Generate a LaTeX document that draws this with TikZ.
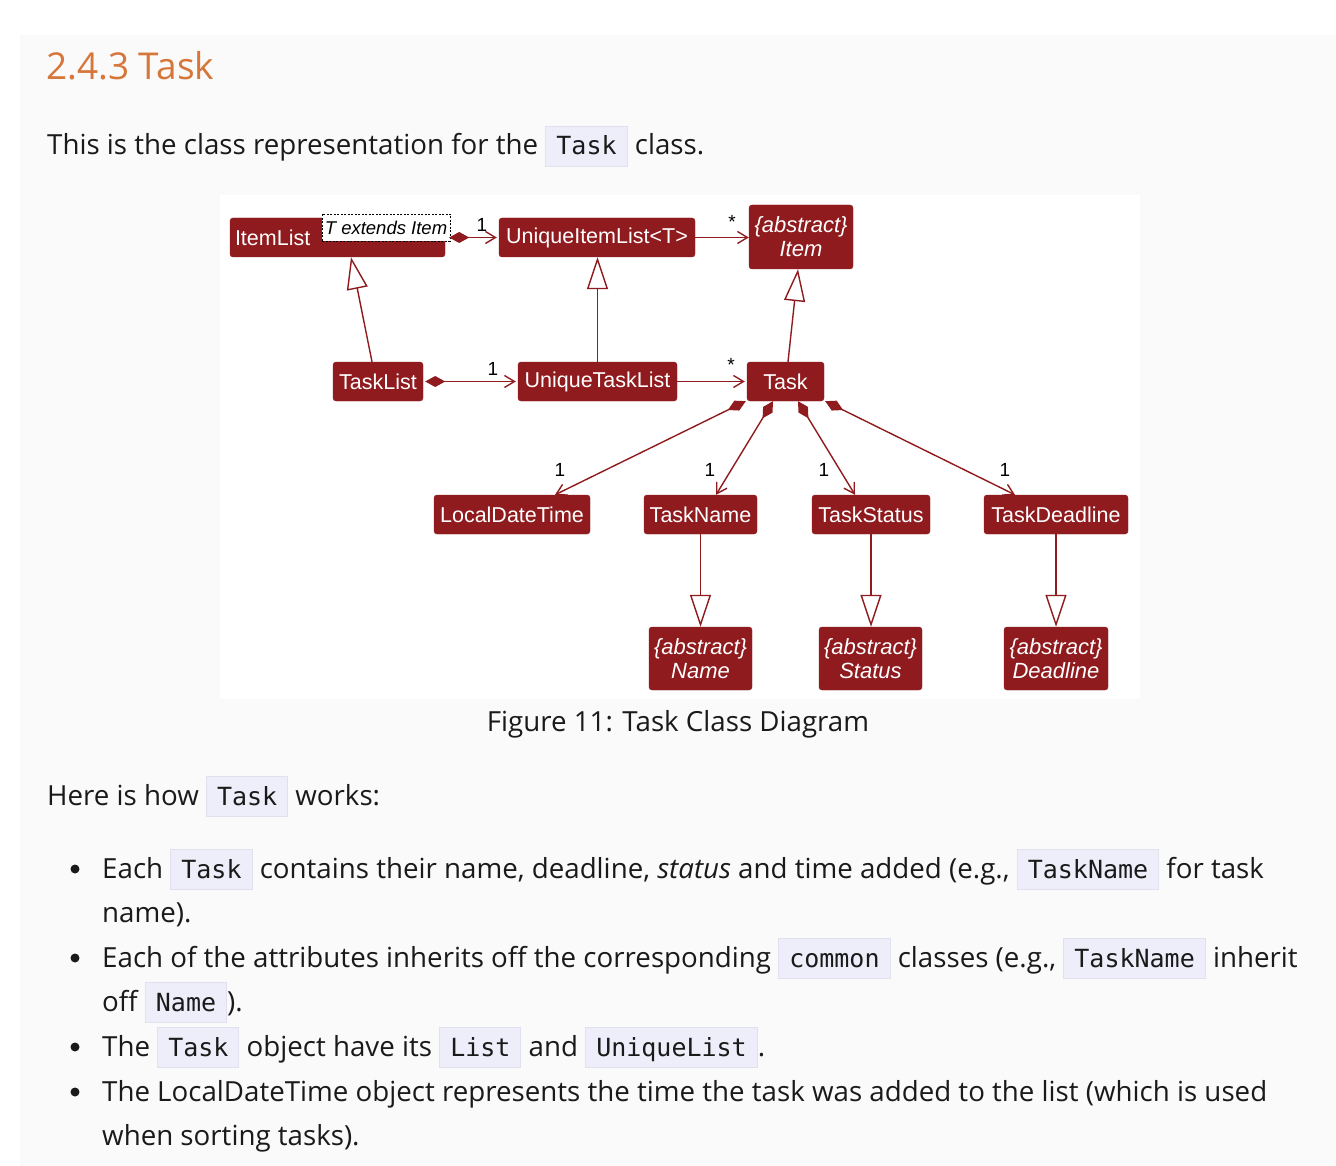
\documentclass[tikz,border=0pt]{standalone}
\usepackage{fontspec}
\setmainfont{Open Sans}
\newfontfamily\umlfont{Liberation Sans}
\newfontfamily\monofont{DejaVu Sans Mono}
\usetikzlibrary{arrows.meta,calc}
\definecolor{umlred}{RGB}{143,27,30}
\definecolor{headorange}{RGB}{214,118,58}
\definecolor{panelgray}{RGB}{250,250,250}
\definecolor{cdf}{RGB}{238,238,250}
\definecolor{cdb}{RGB}{224,224,238}
\definecolor{txt}{RGB}{26,26,26}
\newcommand\cd[1]{{\setlength\fboxsep{0pt}\setlength\fboxrule{1pt}\fcolorbox{cdb}{cdf}{\rule[-11pt]{0pt}{39pt}\hspace{10pt}{\monofont\fontsize{25}{25}\selectfont #1}\hspace{10pt}}}}
\tikzset{
  cls/.style={fill=umlred, draw=umlred, rounded corners=3pt, text=white, inner sep=0pt,
    font=\umlfont\fontsize{21.5}{24}\selectfont, minimum height=39pt},
  abs/.style={cls, align=center, minimum height=63pt, font=\umlfont\itshape\fontsize{22}{24}\selectfont},
  conn/.style={draw=umlred, line width=1.4pt},
  comp/.style={conn, {Diamond[length=20pt,width=11pt]}-{Straight Barb[length=10pt,width=12pt]}},
  assoc/.style={conn, -{Straight Barb[length=10pt,width=12pt]}},
  inh/.style={conn, -{Triangle[open,length=32pt,width=21pt,fill=white]}},
  mult/.style={font=\umlfont\fontsize{19}{19}\selectfont, text=black, inner sep=0pt},
  body/.style={anchor=base west, inner sep=0pt, text=txt, font=\fontsize{27.7}{32}\selectfont},
}
\begin{document}
\begin{tikzpicture}[x=1pt,y=-1pt]
\useasboundingbox (0,0) rectangle (1336,1166);
\fill[white] (0,0) rectangle (1336,1166);
\fill[panelgray] (20,35) rectangle (1336,1166);
\fill[white] (220,195) rectangle (1140,699);

\node[anchor=base west, inner sep=0pt, text=headorange, font=\fontsize{37}{40}\selectfont] (head) at (46,80) {2.4.3 Task};
\node[body] (l1) at (47,155) {This is the class representation for the \cd{Task} class.};

% diagram
\node[cls, minimum width=215pt, text width=205pt, inner xsep=5pt, align=left] (itemlist) at (337.5,237.5) {ItemList};
\node[fill=white, draw=black, dashed, dash pattern=on 2pt off 1.5pt, line width=0.8pt, minimum width=128pt, minimum height=27pt, inner sep=0pt, font=\umlfont\itshape\fontsize{18.5}{18}\selectfont] (tmpl) at (386,227.5) {T extends Item};
\node[cls, minimum width=196pt] (uil) at (597,237.5) {UniqueItemList<T>};
\node[abs, minimum width=104pt, minimum height=64pt] (item) at (801,237) {\{abstract\}\\Item};
\node[cls, minimum width=90pt] (tasklist) at (378,381.5) {TaskList};
\node[cls, minimum width=159pt] (utl) at (597.5,381.5) {UniqueTaskList};
\node[cls, minimum width=77pt] (task) at (785.5,381.5) {Task};
\node[cls, minimum width=156pt] (ldt) at (512,514.5) {LocalDateTime};
\node[cls, minimum width=113pt] (tname) at (700.5,514.5) {TaskName};
\node[cls, minimum width=118pt] (tstatus) at (871,514.5) {TaskStatus};
\node[cls, minimum width=144pt] (tdead) at (1056,514.5) {TaskDeadline};
\node[abs, minimum width=103pt] (aname) at (700.5,658.5) {\{abstract\}\\Name};
\node[abs, minimum width=103pt] (astatus) at (870.5,658.5) {\{abstract\}\\Status};
\node[abs, minimum width=104pt] (adead) at (1056,658.5) {\{abstract\}\\Deadline};

\draw[comp] ([xshift=4pt]itemlist.east) -- ([xshift=-2pt]uil.west);
\node[mult] (m1) at (482,225) {1};
\draw[assoc] (uil.east) -- (uil.east -| item.west);
\node[mult] (m2) at (732,222) {*};
\draw[inh] ([xshift=-6pt]tasklist.north) -- ([xshift=13.5pt]itemlist.south);
\draw[inh] (utl.north) -- (utl.north |- uil.south);
\draw[inh] ([xshift=2.5pt]task.north) -- ([xshift=-3pt]item.south);
\draw[comp] ([xshift=2pt]tasklist.east) -- ([xshift=-2pt]utl.west);
\node[mult] (m3) at (493,369) {1};
\draw[assoc] (utl.east) -- ([xshift=-2pt]task.west);
\node[mult] (m4) at (731,365) {*};

\draw[comp] ([xshift=-1pt]task.south west) -- ([xshift=43pt]ldt.north);
\draw[comp] ([xshift=-12.5pt]task.south) -- ([xshift=15.5pt]tname.north);
\draw[comp] ([xshift=12.5pt]task.south) -- ([xshift=-16pt]tstatus.north);
\draw[comp] ([xshift=1pt]task.south east) -- ([xshift=-41pt]tdead.north);
\node[mult] (m5) at (560,470) {1};
\node[mult] (m6) at (710,470) {1};
\node[mult] (m7) at (824,470) {1};
\node[mult] (m8) at (1005,470) {1};

\draw[inh] (tname.south) -- (tname.south |- aname.north);
\draw[inh] (tstatus.south) -- (tstatus.south |- astatus.north);
\draw[inh] (tdead.south) -- (tdead.south |- adead.north);

\node[inner sep=0pt, text=txt, font=\fontsize{27.7}{32}\selectfont] (cap) at (678,724) {Figure 11: Task Class Diagram};

\node[body] (l2) at (47,805) {Here is how \cd{Task} works:};
\fill[txt] (75,869) circle (4.5);
\node[body] (l3) at (102,878) {Each \cd{Task} contains their name, deadline, \textit{status} and time added (e.g., \cd{TaskName} for task};
\node[body] (l4) at (102,922) {name).};
\fill[txt] (75,958) circle (4.5);
\node[body] (l5) at (102,967) {Each of the attributes inherits off the corresponding \cd{common} classes (e.g., \cd{TaskName} inherit};
\node[body] (l6) at (102,1011) {off \cd{Name}).};
\fill[txt] (75,1047) circle (4.5);
\node[body] (l7) at (102,1056) {The \cd{Task} object have its \cd{List} and \cd{UniqueList}.};
\fill[txt] (75,1092) circle (4.5);
\node[body] (l8) at (102,1101) {The LocalDateTime object represents the time the task was added to the list (which is used};
\node[body] (l9) at (102,1145) {when sorting tasks).};
\end{tikzpicture}
\end{document}
